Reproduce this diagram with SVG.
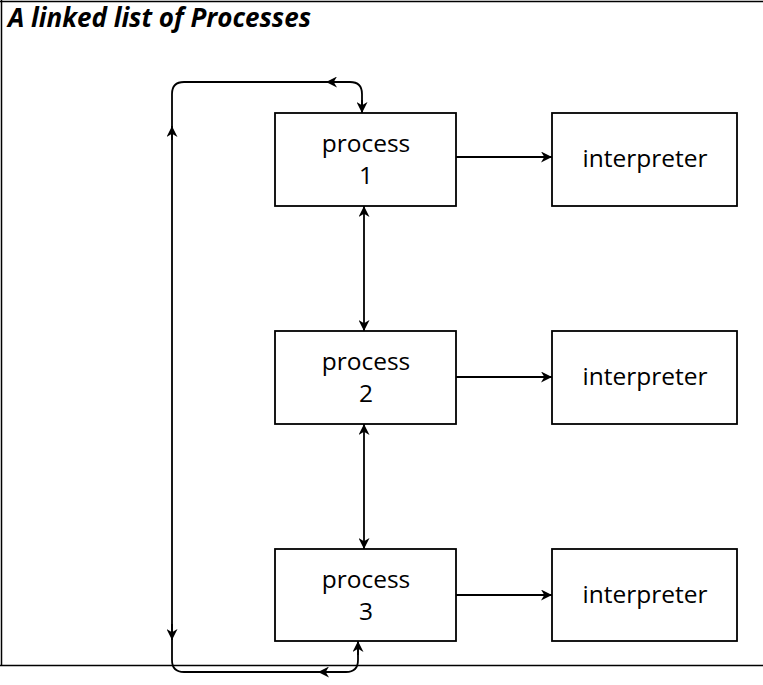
<svg xmlns="http://www.w3.org/2000/svg" width="763" height="685" viewBox="0 0 763 685">
<defs>
<marker id="ah" viewBox="0 0 10 10" refX="10" refY="5" markerWidth="11" markerHeight="11" markerUnits="userSpaceOnUse" orient="auto-start-reverse">
<path d="M0,0 L10,5 L0,10 L3,5 Z" fill="#000"/>
</marker>
<style>
.box{fill:#fff;stroke:#000;stroke-width:1.8}
.lbl{font-family:"Open Sans","Liberation Sans",sans-serif;font-size:24.5px;fill:#000;text-anchor:middle}
.ln{fill:none;stroke:#000;stroke-width:1.8}
</style>
</defs>
<rect width="763" height="685" fill="#fff"/>
<g id="frame">
<line x1="0" y1="1.5" x2="763" y2="1.5" stroke="#000" stroke-width="1.5"/>
<line x1="1.5" y1="0" x2="1.5" y2="666" stroke="#000" stroke-width="1.5"/>
<line x1="0" y1="665.5" x2="763" y2="665.5" stroke="#000" stroke-width="1.5"/>
</g>
<text id="title" x="8" y="27" font-family="'Open Sans','Liberation Sans',sans-serif" font-size="26" font-weight="bold" font-style="italic" fill="#000">A linked list of Processes</text>
<g id="p1"><rect class="box" x="275" y="113" width="181" height="93"/><text class="lbl" x="366" y="152">process</text><text class="lbl" x="366" y="184">1</text></g>
<g id="p2"><rect class="box" x="275" y="331" width="181" height="93"/><text class="lbl" x="366" y="370">process</text><text class="lbl" x="366" y="402">2</text></g>
<g id="p3"><rect class="box" x="275" y="549" width="181" height="92"/><text class="lbl" x="366" y="588">process</text><text class="lbl" x="366" y="620">3</text></g>
<g id="i1"><rect class="box" x="552" y="113" width="185" height="93"/><text class="lbl" x="645" y="167">interpreter</text></g>
<g id="i2"><rect class="box" x="552" y="331" width="185" height="93"/><text class="lbl" x="645" y="385">interpreter</text></g>
<g id="i3"><rect class="box" x="552" y="549" width="185" height="92"/><text class="lbl" x="645" y="603">interpreter</text></g>
<g id="connectors">
<line class="ln" x1="456" y1="157" x2="552" y2="157" marker-end="url(#ah)"/>
<line class="ln" x1="456" y1="377" x2="552" y2="377" marker-end="url(#ah)"/>
<line class="ln" x1="456" y1="595" x2="552" y2="595" marker-end="url(#ah)"/>
<line class="ln" x1="364" y1="206" x2="364" y2="331" marker-start="url(#ah)" marker-end="url(#ah)"/>
<line class="ln" x1="364" y1="424" x2="364" y2="549" marker-start="url(#ah)" marker-end="url(#ah)"/>
<path class="ln" d="M362,113 V94 Q362,82 350,82 H184 Q172,82 172,94 V660 Q172,672 184,672 H346 Q358,672 358,660 V641"/>
<line class="ln" x1="340" y1="82" x2="326" y2="82" marker-end="url(#ah)"/>
<path class="ln" d="M362,100 V113" marker-end="url(#ah)"/>
<line class="ln" x1="172" y1="140" x2="172" y2="126" marker-end="url(#ah)"/>
<line class="ln" x1="172" y1="624" x2="172" y2="640" marker-end="url(#ah)"/>
<line class="ln" x1="334" y1="672" x2="318" y2="672" marker-end="url(#ah)"/>
<path class="ln" d="M358,655 V641" marker-end="url(#ah)"/>
</g>
</svg>
